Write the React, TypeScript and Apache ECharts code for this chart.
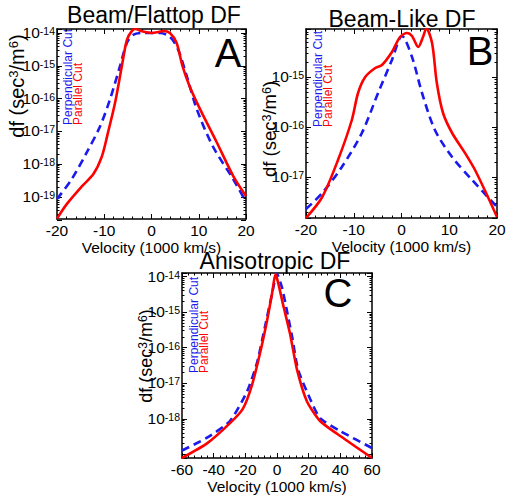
import React, { useEffect, useRef } from "react";
import * as echarts from "echarts";

// ---- Data (velocity in 1000 km/s, df as log10 of sec^3/m^6) ----
const aParX = [-20, -17.9, -14.7, -12.3, -10.5, -9.2, -7.7, -6.3, -5.2, -4.1, -3.4, -2.0, 0.1, 1.5, 2.5, 3.9, 5.3, 6.6, 8.1, 10.3, 13.8, 17.3, 20];
const aParLog = [-19.66, -19.21, -18.67, -18.3, -17.76, -17.03, -16.12, -15.03, -14.21, -13.93, -13.88, -13.95, -14.0, -13.97, -13.94, -14.0, -14.3, -15.03, -15.64, -16.33, -17.33, -18.36, -18.97];
const aPerpX = [-20, -16.9, -13.7, -10.9, -8.8, -6.7, -5.2, -3.9, -1.8, 1.8, 3.9, 5.6, 7.5, 9.6, 13.0, 17.3, 20];
const aPerpLog = [-19.06, -18.46, -17.64, -16.85, -16.03, -15.03, -14.3, -14.06, -14.0, -14.0, -14.12, -14.5, -15.33, -16.33, -17.46, -18.46, -19.15];

const bParX = [-20, -16.6, -13.3, -10.4, -9.1, -7.6, -5.5, -4.1, -2.0, -0.3, 1.2, 2.2, 3.5, 4.5, 5.2, 6.4, 7.4, 8.7, 10.6, 13.3, 15.4, 18.1, 20];
const bParLog = [-17.82, -17.4, -16.66, -15.86, -15.32, -15.0, -14.82, -14.76, -14.5, -14.2, -14.12, -14.18, -14.4, -14.2, -14.03, -14.32, -15.12, -15.72, -16.12, -16.52, -16.86, -17.4, -17.8];
const bPerpX = [-20, -16.6, -12.5, -8.3, -4.9, -2.0, 0.1, 2.2, 4.3, 7.0, 10.6, 14.8, 20];
const bPerpLog = [-17.64, -17.32, -16.8, -16.12, -15.32, -14.66, -14.18, -14.6, -15.32, -16.06, -16.6, -17.06, -17.6];

const cParX = [-60, -44.2, -29.7, -21.5, -15.8, -10.7, -6.3, -3.2, -1.0, 0.6, 3.8, 8.2, 12.6, 19.0, 27.2, 37.9, 60];
const cParLog = [-19.1, -18.69, -18.12, -17.71, -17.05, -16.15, -15.24, -14.5, -13.93, -14.15, -14.78, -15.6, -16.61, -17.52, -18.06, -18.42, -19.1];
const cPerpX = [-60, -44.2, -29.7, -19, -12.6, -7.6, -3.2, 0, 3.2, 6.3, 9.5, 13.3, 20.8, 27.2, 39.8, 60];
const cPerpLog = [-18.89, -18.53, -18.06, -17.24, -16.42, -15.41, -14.5, -13.92, -14.32, -14.97, -15.68, -16.61, -17.43, -17.98, -18.34, -18.82];

// labelled decades per panel (log10)
const aDecades = [-19, -18, -17, -16, -15, -14];
const bDecades = [-17, -16, -15];
const cDecades = [-18, -17, -16, -15, -14];

const titles = ["Beam/Flattop DF", "Beam-Like DF", "Anisotropic DF"];
const letters = ["A", "B", "C"];
const xName = "Velocity (1000 km/s)";
const perpName = "Perpendicular Cut";
const parName = "Parallel Cut";

const FONT = "Liberation Sans";

const toPairs = (xs: number[], ls: number[]) => xs.map((x, i) => [x, Math.pow(10, ls[i])]);

export default function App() {
  const ref = useRef<HTMLDivElement>(null);
  useEffect(() => {
    if (!ref.current) return;
    const chart = echarts.init(ref.current, null, { renderer: "svg" });

    const grids = [
      { left: 57, top: 29, width: 189, height: 190 },
      { left: 306, top: 29, width: 191, height: 189 },
      { left: 182, top: 273, width: 190, height: 190 },
    ];
    const xr = [
      { min: -20, max: 20, interval: 10 },
      { min: -20, max: 20, interval: 10 },
      { min: -60, max: 60, interval: 20 },
    ];
    const yr = [
      { min: Math.pow(10, -19.67), max: Math.pow(10, -13.88) },
      { min: Math.pow(10, -17.82), max: Math.pow(10, -14.04) },
      { min: Math.pow(10, -19.1), max: Math.pow(10, -13.9) },
    ];
    const decades = [aDecades, bDecades, cDecades];

    const axisLine = { show: true, onZero: false, lineStyle: { color: "#000", width: 1.5 } };
    const tick = { show: true, inside: true, length: 5, lineStyle: { color: "#000", width: 1 } };
    const xAxes: any[] = [];
    const yAxes: any[] = [];
    for (let i = 0; i < 3; i++) {
      xAxes.push({
        type: "value", gridIndex: i, position: "bottom", ...xr[i],
        axisLine, splitLine: { show: false }, axisTick: tick,
        minorTick: { show: true, splitNumber: 5, length: 2.5, lineStyle: { color: "#000" } },
        axisLabel: { show: true, margin: 3, fontSize: 15.5, color: "#000", fontFamily: FONT, showMinLabel: true, showMaxLabel: true },
        name: xName, nameLocation: "middle", nameGap: 20,
        nameTextStyle: { fontSize: 15.5, color: "#000", fontFamily: FONT },
      });
      xAxes.push({
        type: "value", gridIndex: i, position: "top", ...xr[i],
        axisLine, splitLine: { show: false }, axisTick: tick,
        minorTick: { show: true, splitNumber: 5, length: 2.5, lineStyle: { color: "#000" } },
        axisLabel: { show: false },
      });
      const dec = decades[i];
      yAxes.push({
        type: "log", logBase: 10, gridIndex: i, position: "left", ...yr[i],
        axisLine, splitLine: { show: false }, axisTick: tick,
        minorTick: { show: true, splitNumber: 9, length: 2.5, lineStyle: { color: "#000" } },
        axisLabel: {
          show: true, margin: 2, color: "#000",
          formatter: (v: number) => {
            const e = Math.log10(v);
            const r = Math.round(e);
            if (Math.abs(e - r) > 1e-6 || dec.indexOf(r) < 0) return "";
            return `{b|10}{s|${r}}`;
          },
          rich: {
            b: { fontSize: 15.5, lineHeight: 15, fontFamily: FONT, color: "#000", padding: [6, 0, 0, 0], verticalAlign: "bottom" },
            s: { fontSize: 10.5, lineHeight: 10, fontFamily: FONT, color: "#000", verticalAlign: "top" },
          },
        },
      });
      yAxes.push({
        type: "log", logBase: 10, gridIndex: i, position: "right", ...yr[i],
        axisLine, splitLine: { show: false }, axisTick: tick,
        minorTick: { show: true, splitNumber: 9, length: 2.5, lineStyle: { color: "#000" } },
        axisLabel: { show: false },
      });
    }

    const perpStyle = { color: "#1a1aee", width: 2.6, type: [8, 5] as any };
    const parStyle = { color: "#ff0000", width: 2.6, type: "solid" as any };
    const mk = (name: string, xi: number, data: number[][], style: any, smooth: number) => ({
      type: "line", name, xAxisIndex: xi * 2, yAxisIndex: xi * 2, data,
      showSymbol: false, symbol: "none", smooth, lineStyle: style, z: name === parName ? 3 : 2,
      clip: true,
    });
    const series = [
      mk(perpName, 0, toPairs(aPerpX, aPerpLog), perpStyle, 0.3),
      mk(parName, 0, toPairs(aParX, aParLog), parStyle, 0.3),
      mk(perpName, 1, toPairs(bPerpX, bPerpLog), perpStyle, 0.3),
      mk(parName, 1, toPairs(bParX, bParLog), parStyle, 0.3),
      mk(perpName, 2, toPairs(cPerpX, cPerpLog), perpStyle, 0.2),
      mk(parName, 2, toPairs(cParX, cParLog), parStyle, 0.2),
    ];

    const titlePos = [[154, 15], [402, 19], [275, 261]];
    const letterPos = [[228, 53], [480, 51], [338, 293]];
    const ylabPos = [[17, 86], [270, 129], [146, 356]];
    const ylabSize = [[20, 13], [18.5, 12.5], [18, 12]];
    const legPos = [[68, 125], [318, 127], [194, 373]];

    const graphic: any[] = [];
    for (let i = 0; i < 3; i++) {
      graphic.push({
        type: "text", x: titlePos[i][0], y: titlePos[i][1],
        style: { text: titles[i], fontSize: 23, fontFamily: FONT, fill: "#000", align: "center", verticalAlign: "middle" },
      });
      graphic.push({
        type: "text", x: letterPos[i][0], y: letterPos[i][1],
        style: { text: letters[i], fontSize: 40, lineHeight: 34, fontFamily: FONT, fill: "#000", align: "center", verticalAlign: "middle" },
      });
      const [fa, fs] = ylabSize[i];
      graphic.push({
        type: "text", x: ylabPos[i][0], y: ylabPos[i][1], rotation: Math.PI / 2,
        style: {
          text: "{a|df (sec}{s|3}{a|/m}{s|6}{a|)}",
          align: "center", verticalAlign: "middle", fill: "#000",
          rich: {
            a: { fontSize: fa, lineHeight: fa, fontFamily: FONT, padding: [6, 0, 0, 0], verticalAlign: "bottom" },
            s: { fontSize: fs, lineHeight: fs, fontFamily: FONT, verticalAlign: "top" },
          },
        },
      });
      graphic.push({
        type: "text", x: legPos[i][0], y: legPos[i][1], rotation: Math.PI / 2,
        style: { text: perpName, fontSize: 12, fontFamily: FONT, fill: "#1a1aee", align: "left", verticalAlign: "middle" },
      });
      graphic.push({
        type: "text", x: legPos[i][0] + 10, y: legPos[i][1], rotation: Math.PI / 2,
        style: { text: parName, fontSize: 12, fontFamily: FONT, fill: "#ff0000", align: "left", verticalAlign: "middle" },
      });
    }

    chart.setOption({
      animation: false,
      backgroundColor: "#fff",
      grid: grids.map((g) => ({ ...g, containLabel: false })),
      xAxis: xAxes,
      yAxis: yAxes,
      series,
      graphic,
    });
    return () => chart.dispose();
  }, []);
  return <div ref={ref} style={{ position: "fixed", left: 0, top: 0, width: 510, height: 495 }} />;
}
